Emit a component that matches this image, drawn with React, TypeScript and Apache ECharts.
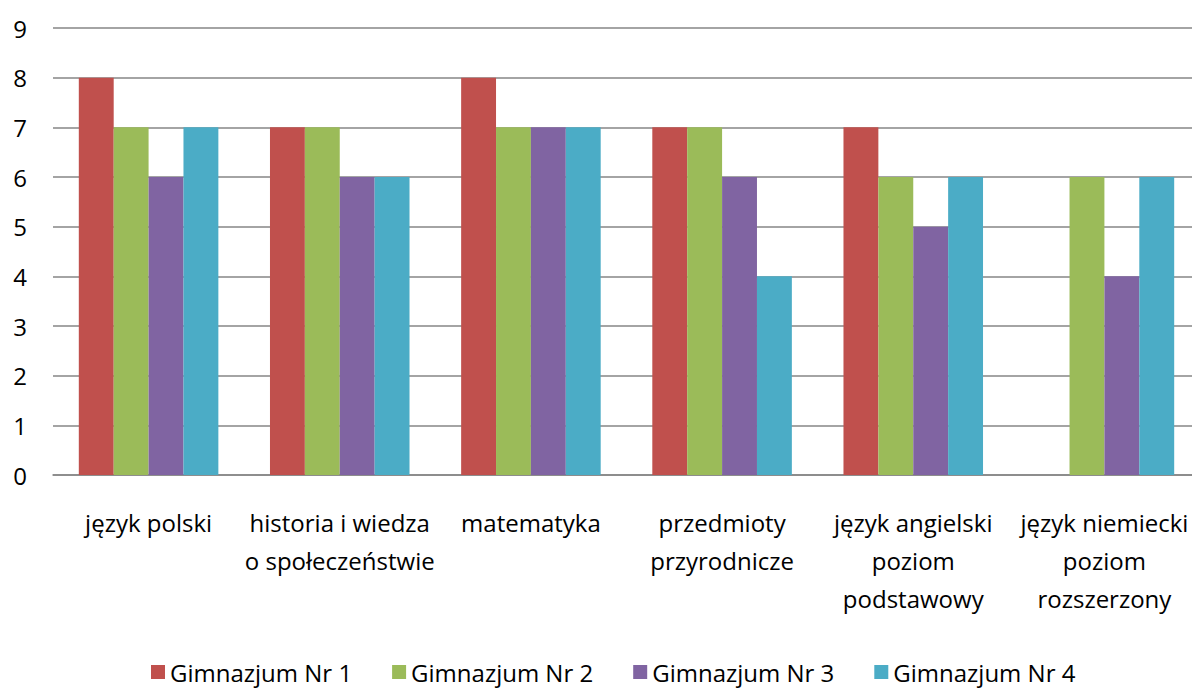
import React, { useEffect, useRef } from "react";
import * as echarts from "echarts";

const categories = [
  "język polski",
  "historia i wiedza\no społeczeństwie",
  "matematyka",
  "przedmioty\nprzyrodnicze",
  "język angielski\npoziom\npodstawowy",
  "język niemiecki\npoziom\nrozszerzony",
];
const seriesNames = ["Gimnazjum Nr 1", "Gimnazjum Nr 2", "Gimnazjum Nr 3", "Gimnazjum Nr 4"];
const gim1 = [8, 7, 8, 7, 7, null];
const gim2 = [7, 7, 7, 7, 6, 6];
const gim3 = [6, 6, 7, 6, 5, 4];
const gim4 = [7, 6, 7, 4, 6, 6];
const colors = ["#C0504D", "#9BBB59", "#8064A2", "#4BACC6"];

export default function App() {
  const ref = useRef<HTMLDivElement>(null);
  useEffect(() => {
    document.body.style.margin = "0";
    const chart = echarts.init(ref.current!, null, { renderer: "svg" });
    const values = [gim1, gim2, gim3, gim4];
    const font = "'Open Sans', 'Noto Sans', sans-serif";
    chart.setOption({
      animation: false,
      color: colors,
      grid: {
        left: 53,
        width: 1147,
        top: 28,
        height: 447,
        outerBoundsMode: "none",
        containLabel: false,
      },
      legend: {
        bottom: 0,
        left: 146,
        icon: "rect",
        itemWidth: 14,
        itemHeight: 14,
        itemGap: 40,
        textStyle: { fontFamily: font, fontSize: 24, color: "#000" },
        data: seriesNames,
      },
      xAxis: {
        type: "category",
        data: categories,
        axisLine: { lineStyle: { color: "#868686", width: 1.5 } },
        axisTick: { show: false },
        axisLabel: {
          fontFamily: font,
          fontSize: 24,
          color: "#000",
          lineHeight: 38,
          margin: 28,
          interval: 0,
        },
      },
      yAxis: {
        type: "value",
        min: 0,
        max: 9,
        interval: 1,
        axisLine: { show: false },
        axisTick: { show: false },
        splitLine: { lineStyle: { color: "#868686", width: 1.5 } },
        axisLabel: {
          fontFamily: font,
          fontSize: 24,
          color: "#000",
          margin: 26,
        },
      },
      series: seriesNames.map((name, i) => ({
        name,
        type: "bar",
        data: values[i],
        barGap: "0%",
        barCategoryGap: "27%",
      })),
    });
    return () => chart.dispose();
  }, []);
  return <div ref={ref} style={{ width: 1192, height: 689 }} />;
}
